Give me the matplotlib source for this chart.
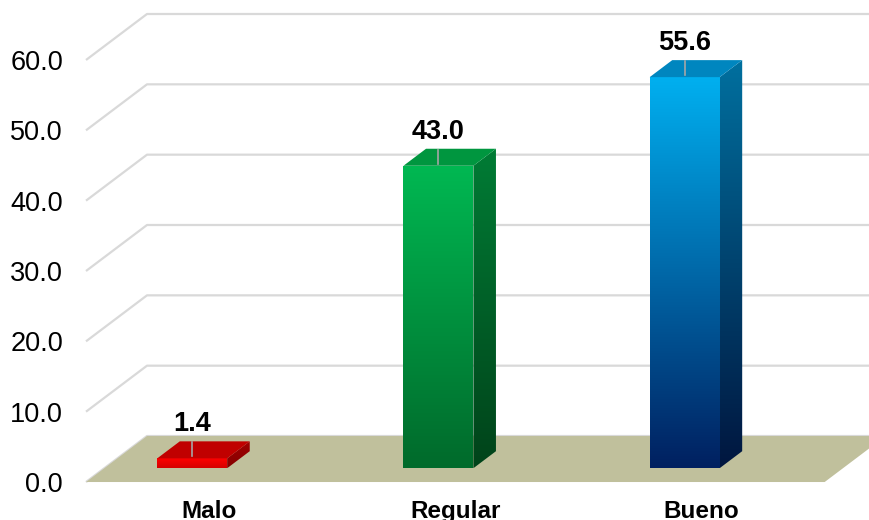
import numpy as np
import matplotlib.pyplot as plt
from matplotlib.patches import Polygon
from matplotlib.colors import to_rgb

categories = ['Malo', 'Regular', 'Bueno']
values = [1.4, 43.0, 55.6]
yticks = [0, 10, 20, 30, 40, 50, 60]

# (top, bottom) shades of the front and side faces, plus the lid colour
front_colors = [('#FF0000', '#D40000'), ('#00B852', '#006A2B'), ('#00B0F0', '#002060')]
side_colors = [('#A00000', '#850000'), ('#007C35', '#00431A'), ('#00709F', '#00163F')]
top_colors = ['#C00000', '#00963F', '#0086BF']

plt.rcParams['font.family'] = ['Liberation Sans', 'DejaVu Sans']

# floor depth (x, y offset in data units) and where the bars sit inside it
DX, DY = 0.2477, 6.54
D0, D1 = 0.30, 0.67
BAR_W = 0.284
BAR_SHIFT = -0.285


def shaded(ax, poly, c_top, c_bot, extent, z):
    top = np.array(to_rgb(c_top))
    bot = np.array(to_rgb(c_bot))
    t = np.linspace(0, 1, 256)[:, None]
    img = (top * (1 - t) + bot * t)[:, None, :]
    im = ax.imshow(img, extent=extent, origin='upper', aspect='auto',
                   interpolation='bilinear', zorder=z)
    clip = Polygon(poly, closed=True, transform=ax.transData,
                   facecolor='none', edgecolor='none')
    im.set_clip_path(clip)


fig = plt.figure(figsize=(8.69, 5.2), dpi=100)
ax = fig.add_axes([86 / 869, 0, 1 - 86 / 869, 1])
xmin, xmax = -0.5, 2.68

# back wall grid with its slanted left edge
for t in yticks:
    ax.plot([xmin, xmin + DX, xmax + 0.1], [t, t + DY, t + DY],
            color='#D9D9D9', lw=1.6, zorder=1, clip_on=False,
            solid_capstyle='butt')

# floor
n = len(categories)
floor = [(xmin, 0), (xmin + n, 0), (xmin + n + DX, DY), (xmin + DX, DY)]
ax.add_patch(Polygon(floor, closed=True, facecolor='#C0C09C',
                     edgecolor='none', zorder=2))

for i, v in enumerate(values):
    x0 = i + BAR_SHIFT + D0 * DX
    x1 = x0 + BAR_W
    y0 = D0 * DY
    ddx = (D1 - D0) * DX
    ddy = (D1 - D0) * DY

    front = [(x0, y0), (x1, y0), (x1, y0 + v), (x0, y0 + v)]
    shaded(ax, front, *front_colors[i], (x0, x1, y0, y0 + v), 4)

    side = [(x1, y0), (x1 + ddx, y0 + ddy), (x1 + ddx, y0 + ddy + v), (x1, y0 + v)]
    shaded(ax, side, *side_colors[i], (x1, x1 + ddx, y0, y0 + ddy + v), 4)

    lid = [(x0, y0 + v), (x1, y0 + v), (x1 + ddx, y0 + v + ddy), (x0 + ddx, y0 + v + ddy)]
    ax.add_patch(Polygon(lid, closed=True, facecolor=top_colors[i],
                         edgecolor='none', zorder=5))

    # value label with its leader line
    cx = (x0 + x1) / 2
    ax.plot([cx, cx], [y0 + v + 0.3, y0 + v + 2.3], color='#A6A6A6',
            lw=1.2, zorder=6)
    ax.text(cx, y0 + v + 4.85, f'{v:.1f}', ha='center', va='center',
            fontsize=19.5, fontweight='bold', color='black', zorder=7)

    ax.text(i, -2.5, categories[i], ha='center', va='top', fontsize=17.5,
            fontweight='bold', color='black')

ax.set_xlim(xmin, xmax)
ax.set_ylim(-5.40, 68.53)
ax.set_xticks([])
ax.set_yticks(yticks)
ax.set_yticklabels([f'{t:.1f}' for t in yticks])
ax.tick_params(axis='y', length=0, pad=16.5, labelsize=19.5, labelcolor='black')
for s in ax.spines.values():
    s.set_visible(False)
ax.patch.set_alpha(0)

fig.savefig('out.png', dpi=100)
